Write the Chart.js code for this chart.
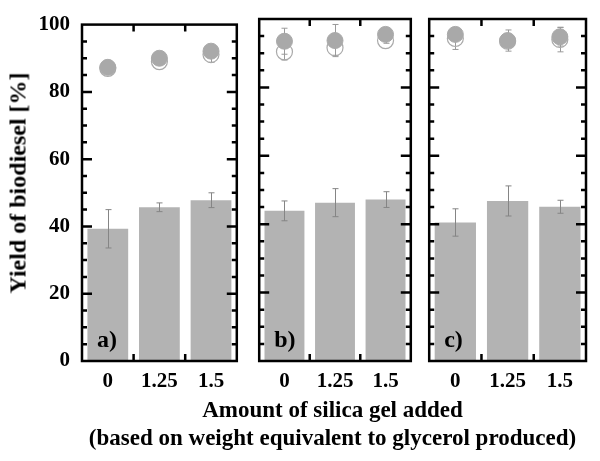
<!DOCTYPE html>
<html><head><meta charset="utf-8">
<script src="https://cdn.jsdelivr.net/npm/chart.js@4.4.0/dist/chart.umd.min.js"></script>
<style>
html,body{margin:0;padding:0;background:#fff;}
body{width:600px;height:461px;position:relative;overflow:hidden;font-family:"Liberation Serif","Times New Roman",serif;}
.pane{position:absolute;top:0;height:400px;}
.ytitle{position:absolute;left:18px;top:183px;transform:translate(-50%,-50%) rotate(-90deg);font-weight:bold;font-size:24px;white-space:nowrap;color:#000;}
.xtitle{position:absolute;left:0;width:665px;text-align:center;font-weight:bold;font-size:23px;white-space:nowrap;color:#000;line-height:26px;}
</style>
</head><body>
<div class="pane" id="pa" style="left:0;width:246px;"><canvas id="ca"></canvas></div>
<div class="pane" id="pb" style="left:250px;width:170px;"><canvas id="cb"></canvas></div>
<div class="pane" id="pc" style="left:420px;width:180px;"><canvas id="cc"></canvas></div>
<div class="ytitle">Yield of biodiesel [%]</div>
<div class="xtitle" style="top:397px;">Amount of silica gel added</div>
<div class="xtitle" style="top:425px;">(based on weight equivalent to glycerol produced)</div>
<script>
const categories = ['0', '1.25', '1.5'];
const panelLabels = ['a)', 'b)', 'c)'];
const yTicks = [0, 20, 40, 60, 80, 100];
const barValues = [[39.3, 45.7, 47.8], [43.9, 46.3, 47.2], [40.5, 46.8, 45.1]];
const barErrors = [[5.7, 1.3, 2.2], [2.9, 4.1, 2.3], [4.0, 4.4, 1.9]];
const filledValues = [[87.3, 90.0, 92.1], [93.5, 93.7, 95.5], [95.5, 93.7, 94.8]];
const filledErrors = [[0.5, 0.8, 1.0], [3.8, 4.7, 0.8], [1.0, 3.1, 2.7]];
const openValues = [[87.0, 89.0, 91.1], [90.4, 91.6, 93.7], [94.3, 93.5, 94.0]];
const openErrors = [[0.5, 0.8, 2.3], [2.4, 2.2, 0.8], [3.2, 1.5, 3.6]];

const FONT = '"Liberation Serif","Times New Roman",serif';

function drawErr(chart, idx) {
  const ds = chart.data.datasets[idx];
  if (!ds.errors) return;
  const meta = chart.getDatasetMeta(idx);
  const y = chart.scales.y;
  const ctx = chart.ctx;
  ctx.save();
  ctx.strokeStyle = ds.errColor;
  ctx.lineWidth = 1;
  meta.data.forEach((el, j) => {
    const v = ds.data[j], e = ds.errors[j];
    const px = Math.round(el.x) + 0.5;
    const y1 = y.getPixelForValue(v + e), y2 = y.getPixelForValue(v - e);
    ctx.beginPath();
    ctx.moveTo(px, y1); ctx.lineTo(px, y2);
    ctx.moveTo(px - 3, y1); ctx.lineTo(px + 3, y1);
    ctx.moveTo(px - 3, y2); ctx.lineTo(px + 3, y2);
    ctx.stroke();
  });
  ctx.restore();
}

const errPlugin = {
  id: 'err',
  beforeDatasetDraw(chart, args) { if (chart.data.datasets[args.index].type === 'line') drawErr(chart, args.index); },
  afterDatasetDraw(chart, args) { if (chart.data.datasets[args.index].type === 'bar') drawErr(chart, args.index); }
};

const framePlugin = {
  id: 'frame',
  afterDraw(chart, args, opts) {
    const { ctx, chartArea: { left, right, top, bottom }, scales: { x, y } } = chart;
    ctx.save();
    ctx.strokeStyle = '#000';
    ctx.lineWidth = 2.5;
    ctx.strokeRect(left, top, right - left, bottom - top);
    ctx.beginPath();
    for (let v = 5; v < 100; v += 5) {
      const py = y.getPixelForValue(v);
      const len = v % 20 === 0 ? 10 : 5;
      ctx.moveTo(left, py); ctx.lineTo(left + len, py);
      ctx.moveTo(right, py); ctx.lineTo(right - len, py);
    }
    for (let k = 1; k < categories.length; k++) {
      const px = (x.getPixelForValue(k - 1) + x.getPixelForValue(k)) / 2;
      ctx.moveTo(px, top); ctx.lineTo(px, top + 7);
      ctx.moveTo(px, bottom); ctx.lineTo(px, bottom - 7);
    }
    ctx.stroke();
    ctx.fillStyle = '#000';
    ctx.font = 'bold 24px ' + FONT;
    ctx.textAlign = 'left';
    ctx.textBaseline = 'alphabetic';
    ctx.fillText(opts.label, left + 15, bottom - 14);
    ctx.restore();
  }
};

function makePanel(canvasId, i, pad, showY) {
  new Chart(document.getElementById(canvasId), {
    type: 'bar',
    data: {
      labels: categories,
      datasets: [
        { type: 'line', data: filledValues[i], errors: filledErrors[i], errColor: '#9a9a9a', showLine: false,
          pointRadius: 8, pointHoverRadius: 8, pointBackgroundColor: '#a9a9a9', pointBorderColor: '#a9a9a9',
          pointBorderWidth: 1, order: 0 },
        { type: 'line', data: openValues[i], errors: openErrors[i], errColor: '#9a9a9a', showLine: false,
          pointRadius: 8, pointHoverRadius: 8, pointBackgroundColor: 'rgba(255,255,255,0)', pointBorderColor: '#aaaaaa',
          pointBorderWidth: 1.2, order: 1 },
        { type: 'bar', data: barValues[i], errors: barErrors[i], errColor: '#858585', backgroundColor: '#b3b3b3',
          borderWidth: 0, barPercentage: 0.79, categoryPercentage: 1, order: 2 }
      ]
    },
    options: {
      responsive: true,
      maintainAspectRatio: false,
      animation: false,
      layout: { padding: pad },
      plugins: { legend: { display: false }, tooltip: { enabled: false }, frame: { label: panelLabels[i] } },
      scales: {
        x: {
          offset: true,
          grid: { display: false, drawTicks: false },
          border: { display: false },
          ticks: { color: '#000', font: { family: FONT, size: 21, weight: 'bold' }, padding: 8, maxRotation: 0, autoSkip: false },
          afterFit(s) { s.height = 39; }
        },
        y: {
          display: showY,
          min: 0, max: 100,
          afterBuildTicks(s) { s.ticks = yTicks.map(v => ({ value: v })); },
          grid: { display: false, drawTicks: false },
          border: { display: false },
          ticks: { color: '#000', font: { family: FONT, size: 21, weight: 'bold' }, padding: 12 },
          afterFit(s) { s.width = showY ? 82 : 0; }
        }
      }
    },
    plugins: [errPlugin, framePlugin]
  });
}

makePanel('ca', 0, { left: 0, right: 3, top: 19, bottom: 0 }, true);
makePanel('cb', 1, { left: 3, right: 4, top: 19, bottom: 0 }, false);
makePanel('cc', 2, { left: 5, right: 14, top: 19, bottom: 0 }, false);
</script>
</body></html>
